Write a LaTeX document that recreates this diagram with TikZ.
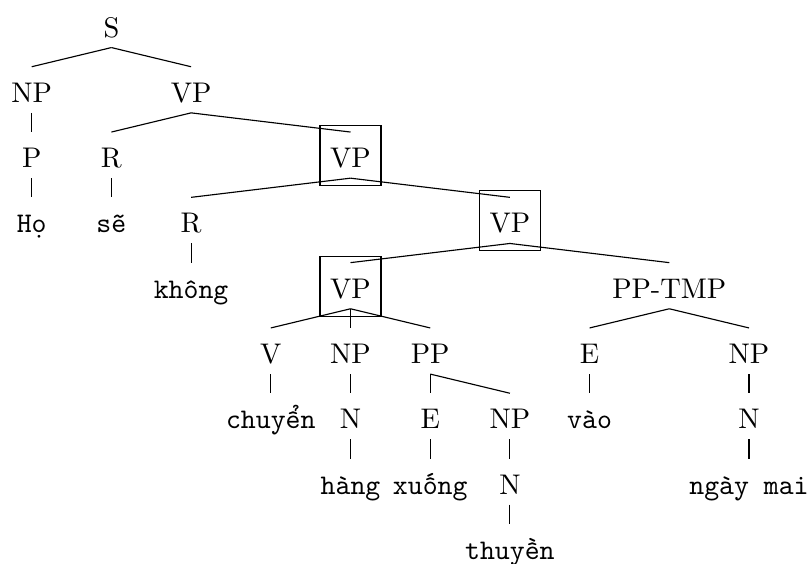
\documentclass[tikz,border=0pt]{standalone}
\begin{document}
\begin{tikzpicture}[x=0.3521pt,y=-0.3521pt,
  tn/.style={inner sep=0pt, anchor=base, text height=12.32pt, text depth=3.52pt},
  wd/.style={tn, font=\ttfamily},
  vbox/.style={draw, inner sep=0pt, minimum width=21.48pt, minimum height=21.13pt},
  edge/.style={line width=0.4pt}]
\path[use as bounding box] (0,0) rectangle (809,563);
% columns: 31.7 + 79.7c ; baselines: 37 + 65.3(r-1)
% row 1
\node[tn] (s) at (111.4,37) {S};
% row 2
\node[tn] (np2) at (31.7,102.3) {NP};
\node[tn] (vp2) at (191.1,102.3) {VP};
% row 3
\node[tn] (p3) at (31.7,167.6) {P};
\node[tn] (r3) at (111.4,167.6) {R};
\node[tn] (vp3) at (350.5,167.6) {VP};
\node[vbox] (b3) at (350.5,155.6) {};
% row 4
\node[wd] (ho) at (31.7,232.9) {Họ};
\node[wd] (se) at (111.4,232.9) {sẽ};
\node[tn] (r4) at (191.1,232.9) {R};
\node[tn] (vp4) at (509.9,232.9) {VP};
\node[vbox] (b4) at (509.9,220.9) {};
% row 5
\node[wd] (khong) at (191.1,298.2) {không};
\node[tn] (vp5) at (350.5,298.2) {VP};
\node[vbox] (b5) at (350.5,286.2) {};
\node[tn] (pptmp) at (669.3,298.2) {PP-TMP};
% row 6
\node[tn] (v6) at (270.8,363.5) {V};
\node[tn] (np6) at (350.5,363.5) {NP};
\node[tn] (pp6) at (430.2,363.5) {PP};
\node[tn] (e6) at (589.6,363.5) {E};
\node[tn] (npb6) at (749.0,363.5) {NP};
% row 7
\node[wd] (chuyen) at (270.8,428.8) {chuyển};
\node[tn] (n7) at (350.5,428.8) {N};
\node[tn] (e7) at (430.2,428.8) {E};
\node[tn] (np7) at (509.9,428.8) {NP};
\node[wd] (vao) at (589.6,428.8) {vào};
\node[tn] (nb7) at (749.0,428.8) {N};
% row 8
\node[wd] (hang) at (350.5,494.1) {hàng};
\node[wd] (xuong) at (430.2,494.1) {xuống};
\node[tn] (n8) at (509.9,494.1) {N};
\node[wd] (ngaymai) at (749.0,494.1) {ngày mai};
% row 9
\node[wd] (thuyen) at (509.9,559.4) {thuyền};
% edges
\draw[edge] (s.south) -- (np2.north);
\draw[edge] (s.south) -- (vp2.north);
\draw[edge] (np2.south) -- (p3.north);
\draw[edge] (vp2.south) -- (r3.north);
\draw[edge] (vp2.south) -- (vp3.north);
\draw[edge] (p3.south) -- (ho.north);
\draw[edge] (r3.south) -- (se.north);
\draw[edge] (vp3.south) -- (r4.north);
\draw[edge] (vp3.south) -- (vp4.north);
\draw[edge] (r4.south) -- (khong.north);
\draw[edge] (vp4.south) -- (vp5.north);
\draw[edge] (vp4.south) -- (pptmp.north);
\draw[edge] (vp5.south) -- (v6.north);
\draw[edge] (vp5.south) -- (np6.north);
\draw[edge] (vp5.south) -- (pp6.north);
\draw[edge] (pptmp.south) -- (e6.north);
\draw[edge] (pptmp.south) -- (npb6.north);
\draw[edge] (v6.south) -- (chuyen.north);
\draw[edge] (np6.south) -- (n7.north);
\draw[edge] (pp6.south) -- (e7.north);
\draw[edge] (pp6.south) -- (np7.north);
\draw[edge] (e6.south) -- (vao.north);
\draw[edge] (npb6.south) -- (nb7.north);
\draw[edge] (n7.south) -- (hang.north);
\draw[edge] (e7.south) -- (xuong.north);
\draw[edge] (np7.south) -- (n8.north);
\draw[edge] (nb7.south) -- (ngaymai.north);
\draw[edge] (n8.south) -- (thuyen.north);
\end{tikzpicture}
\end{document}
